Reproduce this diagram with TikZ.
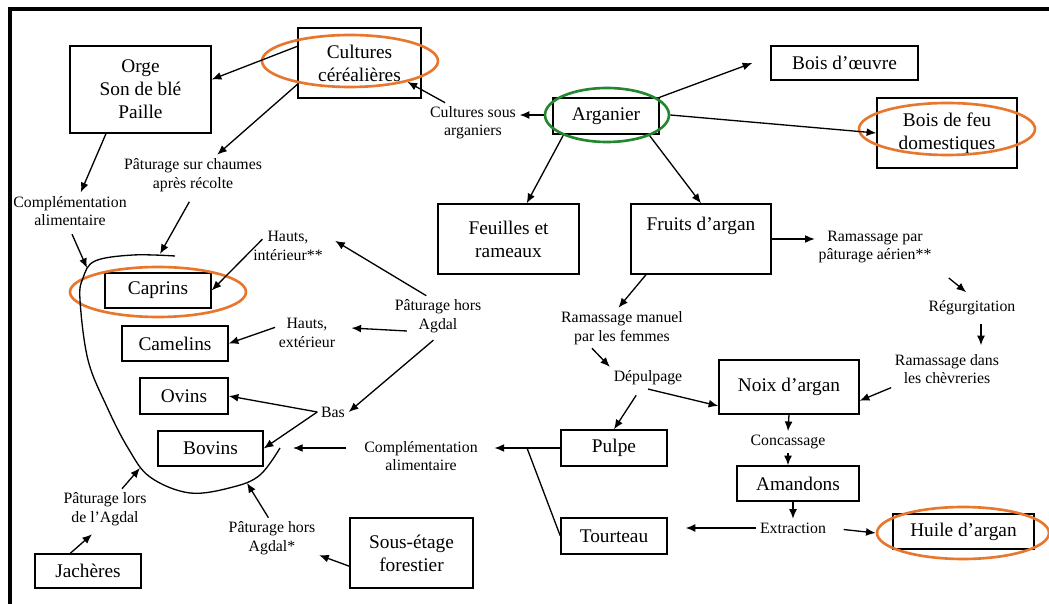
\documentclass[tikz,border=0pt]{standalone}
\usepackage{fontspec}
\setmainfont{Liberation Serif}
\usetikzlibrary{arrows.meta,shapes.geometric}

\definecolor{ringorange}{RGB}{232,118,45}
\definecolor{ringgreen}{RGB}{35,135,45}

\begin{document}
\begin{tikzpicture}[x=0.02cm,y=-0.02cm,
    box/.style={draw,line width=0.8pt,align=center,inner sep=0pt,font=\fontsize{11}{13}\selectfont},
    lbl/.style={align=center,inner sep=2pt,font=\fontsize{9}{10.5}\selectfont},
    arr/.style={-{Latex[length=5.5pt,width=4.5pt]},line width=0.75pt},
    ring/.style={ellipse,draw,line width=1.5pt,inner sep=0pt}]

    \useasboundingbox (0,0) rectangle (1049,604);
    \clip (0,0) rectangle (1049,604);
    \draw[line width=1.9pt] (10,610) -- (10,9) -- (1055,9);

    \node[box,minimum width=2.82cm,minimum height=1.74cm] (orge) at (140.5,89.5) {Orge\\Son de blé\\Paille};
    \node[box,minimum width=2.46cm,minimum height=1.40cm] (cereales) at (359.5,63) {Cultures\\céréalières};
    \node[box,minimum width=2.12cm,minimum height=0.72cm] (arganier) at (606,116) {Arganier};
    \node[box,minimum width=2.94cm,minimum height=0.68cm] (oeuvre) at (844.5,63) {Bois d’œuvre};
    \node[box,minimum width=2.80cm,minimum height=1.40cm] (feu) at (947,133) {Bois de feu\\domestiques};
    \node[box,minimum width=2.82cm,minimum height=1.40cm] (feuilles) at (508.5,239) {Feuilles et\\rameaux};
    \node[box,minimum width=2.80cm,minimum height=1.40cm] (fruits) at (701,239) {Fruits d’argan\\\strut};
    \node[box,minimum width=2.12cm,minimum height=0.70cm] (caprins) at (158,290.5) {Caprins};
    \node[box,minimum width=2.12cm,minimum height=0.70cm] (camelins) at (175,343.5) {Camelins};
    \node[box,minimum width=1.76cm,minimum height=0.72cm] (ovins) at (184,396) {Ovins};
    \node[box,minimum width=2.10cm,minimum height=0.70cm] (bovins) at (210.5,448.5) {Bovins};
    \node[box,minimum width=2.12cm,minimum height=0.68cm] (jacheres) at (88,571) {Jachères};
    \node[box,minimum width=2.46cm,minimum height=1.40cm] (sousetage) at (411.5,553) {Sous-étage\\forestier};
    \node[box,minimum width=2.80cm,minimum height=1.08cm] (noix) at (789,387) {Noix d’argan};
    \node[box,minimum width=2.12cm,minimum height=0.72cm] (pulpe) at (614,448) {Pulpe};
    \node[box,minimum width=2.12cm,minimum height=0.72cm] (tourteau) at (614,536) {Tourteau};
    \node[box,minimum width=2.44cm,minimum height=0.70cm] (amandons) at (798,483.5) {Amandons};
    \node[box,minimum width=2.82cm,minimum height=0.70cm] (huile) at (963.5,531.5) {Huile d’argan};

    \node[lbl] (sousarg) at (473,123) {Cultures sous\\arganiers};
    \node[lbl] (chaumes) at (193,175) {Pâturage sur chaumes\\après récolte};
    \node[lbl] (complA) at (70,211) {Complémentation\\alimentaire};
    \node[lbl] (hautsint) at (288,246) {Hauts,\\intérieur**};
    \node[lbl] (hautsext) at (307,333) {Hauts,\\extérieur};
    \node[lbl] (phors) at (438,316) {Pâturage hors\\Agdal};
    \node[lbl] (bas) at (333,412) {Bas};
    \node[lbl] (complB) at (421,456) {Complémentation\\alimentaire};
    \node[lbl] (plors) at (105,509) {Pâturage lors\\de l’Agdal};
    \node[lbl] (phorsB) at (272,538) {Pâturage hors\\Agdal*};
    \node[lbl] (rampar) at (875,247) {Ramassage par\\pâturage aérien**};
    \node[lbl] (regurg) at (972,308) {Régurgitation};
    \node[lbl] (ramdans) at (947,369) {Ramassage dans\\les chèvreries};
    \node[lbl] (ramman) at (622,328) {Ramassage manuel\\par les femmes};
    \node[lbl] (depulp) at (648,378) {Dépulpage};
    \node[lbl] (concass) at (788,442) {Concassage};
    \node[lbl] (extract) at (793,528) {Extraction};

    \node[ring,draw=ringorange,minimum width=3.52cm,minimum height=1.04cm] (ellcer) at (350,61) {};
    \node[ring,draw=ringorange,minimum width=3.52cm,minimum height=1.04cm] (ellfeu) at (947,129) {};
    \node[ring,draw=ringorange,minimum width=3.52cm,minimum height=1.00cm] (ellcap) at (158,292) {};
    \node[ring,draw=ringorange,minimum width=3.44cm,minimum height=1.04cm] (ellhuile) at (963,533) {};
    \node[ring,draw=ringgreen,minimum width=2.48cm,minimum height=1.08cm] (ellarg) at (607,115) {};

    \draw[line width=0.75pt] plot[smooth,tension=0.6] coordinates {(175,256) (133,255) (95,261) (83,278) (80,300) (88,360) (107,407) (128,448) (150,477) (190,493) (233,487) (260,475) (280,448)};
    \coordinate (c1) at (87,268);
    \coordinate (c2) at (160,254);
    \coordinate (c4) at (140,468);
    \coordinate (c5) at (247,483);
    \coordinate (cend) at (293,448);
    \coordinate (jn) at (527,448);

    \draw[arr] (cereales.165) -- (orge.8);
    \draw[arr] (cereales.199) -- (chaumes.40);
    \draw[arr] (orge.232) -- (complA.60);
    \draw[arr,shorten <=0.1cm] (complA.south) -- (c1);
    \draw[arr,shorten <=0.15cm] (chaumes.south) -- (c2);
    \draw[arr] (sousarg.144) -- (ellcer.-20);
    \draw[arr] (ellarg.west) -- (ellarg.west -| sousarg.east);
    \draw[arr] (arganier.north east) -- ([xshift=-0.36cm]oeuvre.west);
    \draw[arr] (ellarg.east) -- (feu.west);
    \draw[arr] (ellarg.205) -- (feuilles.63);
    \draw[arr] (ellarg.-26) -- (fruits.north);
    \draw[arr] (fruits.east) -- (fruits.east -| rampar.west);
    \draw[arr,shorten <=0.35cm,shorten >=0.15cm] (rampar.south east) -- (regurg.north);
    \draw[arr,shorten <=0.1cm,shorten >=0.1cm] ([xshift=0.18cm]regurg.south) -- ([xshift=0.18cm]regurg.south |- ramdans.north);
    \draw[arr] (ramdans.south west) -- (noix.-11);
    \draw[arr] (fruits.213) -- (ramman.100);
    \draw[arr] (ramman.214) -- (depulp.north west);
    \draw[arr] (depulp.south) -- (noix.195);
    \draw[arr,shorten <=0.15cm] (depulp.235) -- (pulpe.north);
    \draw[arr] (noix.south) -- (concass.north);
    \draw[arr] (concass.south) -- (concass.south |- amandons.north);
    \draw[arr] (amandons.south -| extract.north) -- (extract.north);
    \draw[arr,shorten >=0.36cm] (extract.west) -- (extract.west -| tourteau.east);
    \draw[arr,shorten <=0.28cm] (extract.east) -- (ellhuile.west);
    \draw[arr,shorten >=0.26cm] (pulpe.west) -- (pulpe.west -| complB.east);
    \draw[line width=0.75pt] (tourteau.west) -- (jn);
    \draw[arr,shorten <=0.28cm] (complB.west |- cend) -- (cend);
    \draw[arr] (bas.west) -- (ovins.east);
    \draw[arr] (bas.west) -- (bovins.east);
    \draw[arr,shorten <=0.12cm] (phors.south) -- (bas.east);
    \draw[arr,shorten >=0.25cm] ([shift={(0.32cm,-0.3cm)}]phors.west) -- (hautsext.10);
    \draw[arr,shorten >=0.2cm] (phors.120) -- (hautsint.15);
    \draw[arr] ([xshift=0.26cm]hautsint.170) -- (caprins.east);
    \draw[arr] (hautsext.170) -- (camelins.east);
    \draw[arr] (phorsB.100) -- (c5);
    \draw[arr] (sousetage.192) -- (phorsB.-20);
    \draw[arr] (plors.50) -- (c4);
    \draw[arr,shorten >=0.15cm] (jacheres.135) -- (plors.250);
\end{tikzpicture}
\end{document}
